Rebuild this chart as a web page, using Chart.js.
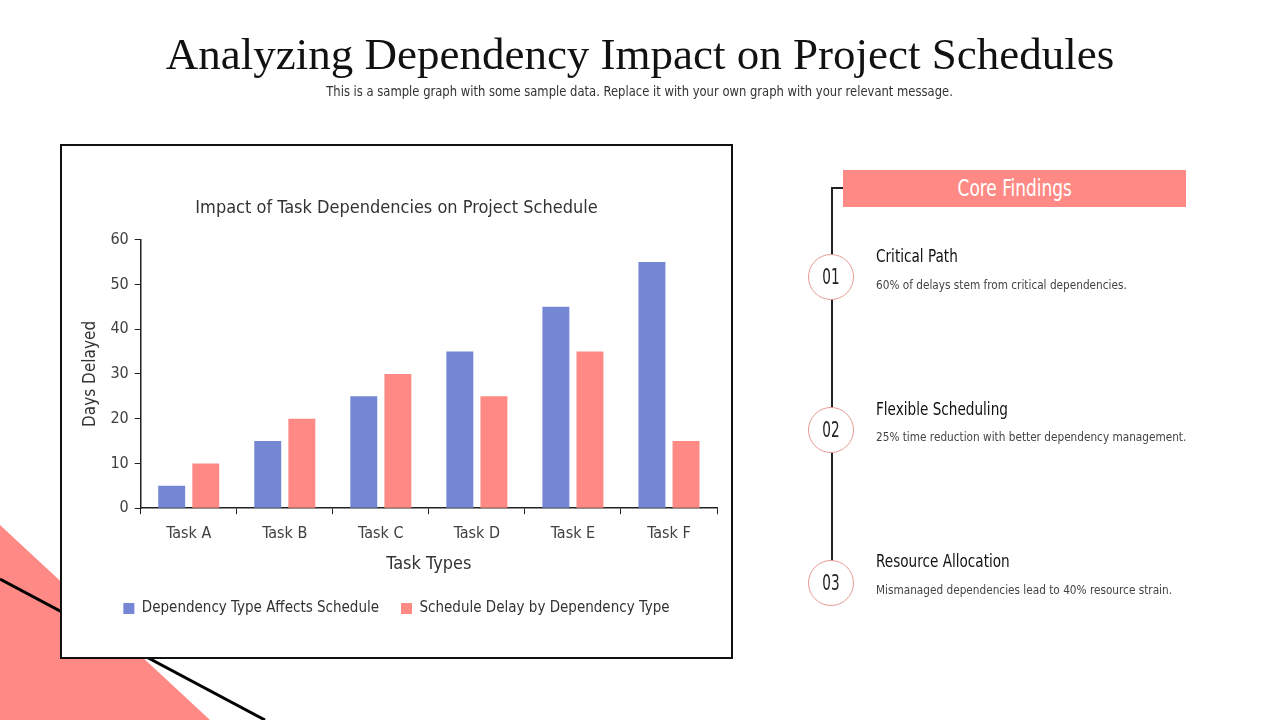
<!DOCTYPE html>
<html>
<head>
<meta charset="utf-8">
<script src="https://cdn.jsdelivr.net/npm/chart.js@4/dist/chart.umd.min.js"></script>
<style>
  body { margin: 0; width: 1280px; height: 720px; background: #fff; position: relative; overflow: hidden;
         font-family: "DejaVu Sans Condensed", "Roboto", sans-serif; }
  #bg { position: absolute; left: 0; top: 0; }
  h1 { position: absolute; left: 0; width: 1280px; top: 28px; margin: 0; text-align: center;
       font-family: "Liberation Serif", "DejaVu Serif", serif; font-weight: normal; font-size: 45px; color: #111; }
  .sub { position: absolute; left: 0; width: 1280px; top: 83px; text-align: center; font-size: 14px; color: #333; }
  .sx { display: inline-block; white-space: nowrap; }
  #box { position: absolute; left: 60px; top: 144px; width: 669px; height: 511px; border: 2px solid #111; background: #fff; }
  #box canvas { display: block; }
  .vline { position: absolute; left: 831px; top: 188px; width: 2px; height: 396px; background: #222; }
  .hline { position: absolute; left: 831px; top: 187px; width: 13px; height: 2px; background: #222; }
  .banner { position: absolute; left: 843px; top: 170px; width: 343px; height: 37px; background: #FF8A85;
            color: #fff; font-size: 23px; text-align: center; line-height: 37px; }
  .circ { position: absolute; left: 808px; width: 44px; height: 44px; border: 1.5px solid #E89A94; border-radius: 50%;
          background: #fff; text-align: center; line-height: 44px; font-size: 21px; color: #222; }
  .hd { position: absolute; left: 876px; font-size: 17px; color: #111; }
  .ds { position: absolute; left: 876px; font-size: 13px; color: #444; }
</style>
</head>
<body>
<canvas id="bg" width="1280" height="720"></canvas>
<h1>Analyzing Dependency Impact on Project Schedules</h1>
<div class="sub"><span class="sx" style="transform:scaleX(0.92)">This is a sample graph with some sample data. Replace it with your own graph with your relevant message.</span></div>
<div id="box"><canvas id="chart" width="669" height="511"></canvas></div>

<div class="vline"></div>
<div class="hline"></div>
<div class="banner"><span class="sx" style="transform:scaleX(0.82)">Core Findings</span></div>

<div class="circ" style="top:254px"><span class="sx" style="transform:scaleX(0.72)">01</span></div>
<div class="hd" style="top:246px"><span class="sx" style="transform:scaleX(0.89);transform-origin:left">Critical Path</span></div>
<div class="ds" style="top:277px"><span class="sx" style="transform:scaleX(0.9);transform-origin:left">60% of delays stem from critical dependencies.</span></div>

<div class="circ" style="top:407px"><span class="sx" style="transform:scaleX(0.72)">02</span></div>
<div class="hd" style="top:399px"><span class="sx" style="transform:scaleX(0.89);transform-origin:left">Flexible Scheduling</span></div>
<div class="ds" style="top:429px"><span class="sx" style="transform:scaleX(0.9);transform-origin:left">25% time reduction with better dependency management.</span></div>

<div class="circ" style="top:560px"><span class="sx" style="transform:scaleX(0.72)">03</span></div>
<div class="hd" style="top:551px"><span class="sx" style="transform:scaleX(0.89);transform-origin:left">Resource Allocation</span></div>
<div class="ds" style="top:582px"><span class="sx" style="transform:scaleX(0.9);transform-origin:left">Mismanaged dependencies lead to 40% resource strain.</span></div>

<script>
// chart data
var tasks = ['Task A', 'Task B', 'Task C', 'Task D', 'Task E', 'Task F'];
var affectsSchedule = [5, 15, 25, 35, 45, 55];
var delayByType = [10, 20, 30, 25, 35, 15];
var seriesNames = ['Dependency Type Affects Schedule', 'Schedule Delay by Dependency Type'];

var blue = '#7486D4';
var pink = '#FF8A85';

// background decoration: pink triangle and a black stroke
var bg = document.getElementById('bg').getContext('2d');
bg.fillStyle = pink;
bg.beginPath();
bg.moveTo(0, 525);
bg.lineTo(210, 720);
bg.lineTo(0, 720);
bg.closePath();
bg.fill();
bg.strokeStyle = '#000';
bg.lineWidth = 3;
bg.beginPath();
bg.moveTo(0, 579);
bg.lineTo(265, 720);
bg.stroke();

Chart.defaults.font.family = '"DejaVu Sans Condensed", "Roboto", sans-serif';
Chart.defaults.color = '#404040';

var ctx = document.getElementById('chart');
var chart = new Chart(ctx, {
    type: 'bar',
    data: {
        labels: tasks,
        datasets: [{
            label: seriesNames[0],
            data: affectsSchedule,
            backgroundColor: blue
        }, {
            label: seriesNames[1],
            data: delayByType,
            backgroundColor: pink
        }]
    },
    options: {
        responsive: false,
        animation: false,
        layout: { padding: { left: 14, right: 14, top: 0, bottom: 31 } },
        categoryPercentage: 0.71,
        barPercentage: 0.79,
        plugins: {
            title: {
                display: true,
                text: 'Impact of Task Dependencies on Project Schedule',
                font: { size: 18, weight: 'normal' },
                color: '#333',
                padding: { top: 52, bottom: 20 }
            },
            legend: {
                position: 'bottom',
                labels: {
                    boxWidth: 11,
                    boxHeight: 11,
                    padding: 22,
                    font: { size: 15 },
                    color: '#333'
                }
            },
            tooltip: { enabled: false }
        },
        scales: {
            x: {
                grid: { drawOnChartArea: false, color: '#222', tickLength: 6 },
                border: { color: '#222', width: 1.5 },
                ticks: { font: { size: 16 }, color: '#404040', padding: 10 },
                title: { display: true, text: 'Task Types', font: { size: 18 }, color: '#333', padding: { top: 0, bottom: 4 } }
            },
            y: {
                min: 0,
                max: 60,
                ticks: { stepSize: 10, font: { size: 16 }, color: '#404040', padding: 6 },
                grid: { drawOnChartArea: false, color: '#222', tickLength: 6 },
                border: { color: '#222', width: 1.5 },
                title: { display: true, text: 'Days Delayed', font: { size: 17 }, color: '#333', padding: { bottom: 4 } }
            }
        }
    }
});
</script>
</body>
</html>
